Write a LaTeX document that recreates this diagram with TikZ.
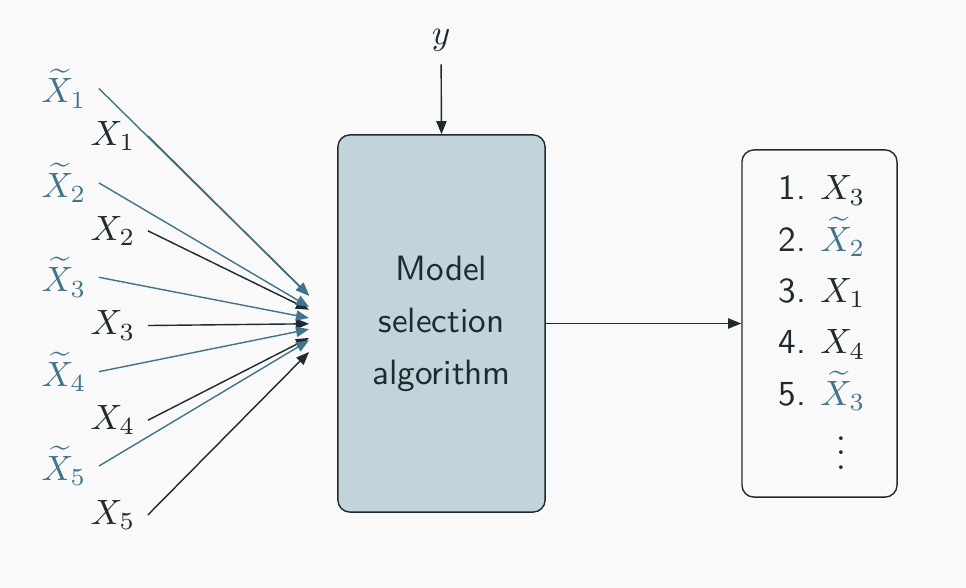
\documentclass[tikz,border=0pt]{standalone}
\usepackage{amsmath}
\usepackage{amssymb}
\usetikzlibrary{arrows.meta}
\definecolor{bgc}{RGB}{249,249,249}
\definecolor{ink}{RGB}{30,42,46}
\definecolor{knock}{RGB}{66,116,140}
\definecolor{boxfill}{RGB}{193,212,219}

\begin{document}
\begin{tikzpicture}[x=0.01cm,y=-0.01cm]
\tikzstyle{every node}+=[text=ink]
\tikzstyle{arr}=[draw=ink, -{Triangle[length=3.7pt,width=2.9pt]}]
\tikzstyle{karr}=[arr, draw=knock, fill=knock]
\tikzstyle{card}=[draw=ink, rounded corners=3.4pt]
\fill [bgc] (0,0) rectangle (966,588);
% selection box and the ranking
\node [card, fill=boxfill, minimum width=2.07cm, minimum height=3.77cm, align=center,
  font=\sffamily\fontsize{10}{14.8}\selectfont] (algo) at (441.5,323.5) {Model\\selection\\algorithm};
\node [card, fill=bgc, minimum width=1.55cm, minimum height=3.47cm] (rank) at (819.5,323.5) {};
\node [anchor=base] (ylab) at (441,45) {$y$};
\foreach \v/\c [count=\i] in {X_3/ink, \widetilde{X}_2/knock, X_1/ink, X_4/ink, \widetilde{X}_3/knock} {
  \node [anchor=base west, font=\sffamily] (num\i) at (766,{200+51.3*(\i-1)}) {\i.};
  \node [anchor=base west, text=\c] (item\i) at (808,{200+51.3*(\i-1)}) {$\v$};
}
\node [anchor=base] (rdots) at (841,469) {$\vdots$};
% variables and their knockoffs
\foreach \i in {1,...,5} {
  \node [anchor=base, text=knock] (xt\i) at (64,{103+94.4*(\i-1)}) {$\widetilde{X}_{\i}$};
  \node [anchor=base] (x\i) at (113,{145.5+94.7*(\i-1)}) {$X_{\i}$};
}
\coordinate (hub) at (algo.west);
\coordinate (stopa) at (309,0);
\coordinate (stopb) at (309,588);
\foreach \i in {1,...,5}
  \draw [arr] (x\i.east) -- (intersection of x\i.east--hub and stopa--stopb);
\foreach \i in {1,...,5}
  \draw [karr] (xt\i.east) -- (intersection of xt\i.east--hub and stopa--stopb);
\draw [arr] (ylab) -- (algo.north);
\draw [arr] (algo.east) -- (rank.west);
\end{tikzpicture}
\end{document}
